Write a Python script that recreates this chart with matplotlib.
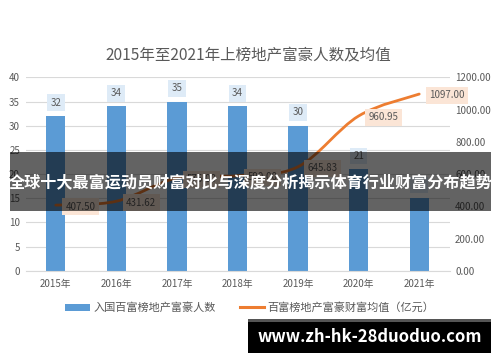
import matplotlib.pyplot as plt
from matplotlib.path import Path
from matplotlib.patches import PathPatch, Rectangle
import numpy as np

plt.rcParams['font.family'] = ['Noto Sans CJK SC', 'DejaVu Sans']

years = ['2015年', '2016年', '2017年', '2018年', '2019年', '2020年', '2021年']
counts = [32, 34, 35, 34, 30, 21, 15]
avg_wealth = [407.50, 431.62, 576.00, 590.00, 645.83, 960.95, 1097.00]

title = '2015年至2021年上榜地产富豪人数及均值'
bar_name = '入国百富榜地产富豪人数'
line_name = '百富榜地产富豪财富均值（亿元）'
banner = '全球十大最富运动员财富对比与深度分析揭示体育行业财富分布趋势'
site = 'www.zh-hk-28duoduo.com'

blue = '#5b9bd5'
orange = '#ed7d31'
grey = '#595959'

fig = plt.figure(figsize=(5, 3.62), dpi=100)
ax = fig.add_axes([0.051, 0.252, 0.848, 0.534])
ax2 = ax.twinx()

x = np.arange(len(years))
ax.bar(x, counts, width=0.32, color=blue, zorder=2)
ax.set_xlim(-0.5, len(years) - 0.5)
ax.set_ylim(0, 40)
ax.set_yticks(range(0, 41, 5))
ax.grid(axis='y', color='#d9d9d9', linewidth=0.8, zorder=0)
ax.set_axisbelow(True)
ax.set_xticks(x)
ax.set_xticklabels(years)

for xi, c in zip(x, counts):
    ax.annotate(str(c), (xi, c), xytext=(0, 6), textcoords='offset points',
                ha='center', va='bottom', fontsize=7, color=grey, zorder=3,
                bbox=dict(boxstyle='square,pad=0.35', fc='#deebf7', ec='none'))

# smoothed line like excel (bezier through the points)
pts = np.column_stack([x, avg_wealth]).astype(float)
verts = [pts[0]]
codes = [Path.MOVETO]
for i in range(len(pts) - 1):
    p0 = pts[i - 1] if i > 0 else pts[i]
    p3 = pts[i + 2] if i + 2 < len(pts) else pts[i + 1]
    c1 = pts[i] + (pts[i + 1] - p0) / 6
    c2 = pts[i + 1] - (p3 - pts[i]) / 6
    verts += [c1, c2, pts[i + 1]]
    codes += [Path.CURVE4] * 3
ax2.add_patch(PathPatch(Path(verts, codes), fill=False, ec=orange, lw=2.0,
                        capstyle='round', zorder=3))
ax2.set_ylim(0, 1200)
ax2.set_yticks(range(0, 1201, 200))
ax2.set_yticklabels([f'{v:.2f}' for v in range(0, 1201, 200)])

for xi, v in zip(x, avg_wealth):
    ax2.annotate(f'{v:.2f}', (xi, v), xytext=(7, -1), textcoords='offset points',
                 ha='left', va='center', fontsize=7, color=grey, zorder=4,
                 bbox=dict(boxstyle='square,pad=0.35', fc='#fbe5d6', ec='none'))

for a in (ax, ax2):
    for s in a.spines.values():
        s.set_visible(False)
    a.tick_params(length=0, labelsize=7, colors=grey, pad=4)
ax.spines['bottom'].set_visible(True)
ax.spines['bottom'].set_color('#d9d9d9')
ax.tick_params(axis='x', pad=6)

fig.text(0.497, 0.848, title, ha='center', va='center', fontsize=11.2, color=grey)

h1 = Rectangle((0, 0), 1, 1, fc=blue)
h2 = plt.Line2D([], [], color=orange, lw=2.2)
fig.legend([h1, h2], [bar_name, line_name], loc='center', bbox_to_anchor=(0.5, 0.15),
           ncol=2, frameon=False, fontsize=8, labelcolor=grey, handlelength=2.2,
           handleheight=0.6, columnspacing=2.2, handletextpad=0.3)

# overlay banner and site mark
fig.patches.append(Rectangle((0.02, 0.417), 0.962, 0.163, transform=fig.transFigure,
                             fc='black', alpha=0.61, ec='none', zorder=10))
fig.text(0.501, 0.497, banner, ha='center', va='center', fontsize=11.6,
         fontweight='bold', color='white', zorder=11)
fig.patches.append(Rectangle((0.496, 0.025), 0.486, 0.094, transform=fig.transFigure,
                             fc='black', ec='none', zorder=10))
fig.patches.append(Rectangle((0.496, 0.111), 0.486, 0.008, transform=fig.transFigure,
                             fc='#555555', ec='none', zorder=11))
fig.text(0.739, 0.07, site, ha='center', va='center', fontsize=12,
         fontweight='bold', color='white', zorder=11)

fig.savefig('out.png', dpi=100)
